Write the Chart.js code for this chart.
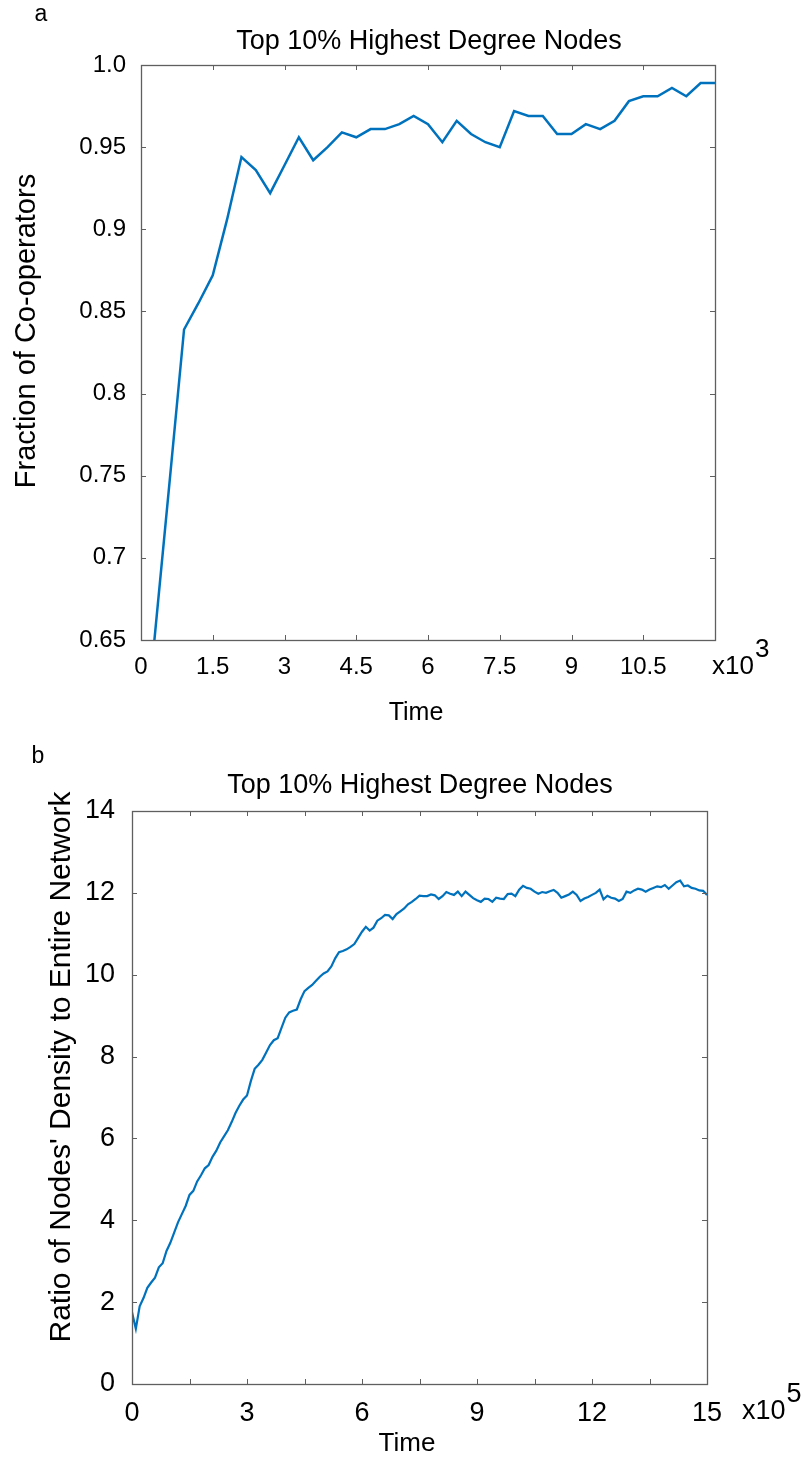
<!DOCTYPE html>
<html>
<head>
<meta charset="utf-8">
<script src="https://cdn.jsdelivr.net/npm/chart.js@4.4.1/dist/chart.umd.min.js"></script>
<style>
  body { margin: 0; background: #fff; }
  #boxA { position: absolute; left: 0; top: 0; }
  #boxB { position: absolute; left: 0; top: 730px; }
</style>
</head>
<body>
<div id="boxA"><canvas id="chartA" width="809" height="730"></canvas></div>
<div id="boxB"><canvas id="chartB" width="809" height="732"></canvas></div>
<script>
// ---- panel a : fraction of co-operators (time in x10^3)
const coopTime = [0, 0.3, 0.6, 0.9, 1.2, 1.5, 1.8, 2.1, 2.4, 2.7, 3.0, 3.3, 3.6, 3.9, 4.2, 4.5, 4.8, 5.1, 5.4, 5.7,
  6.0, 6.3, 6.6, 6.9, 7.2, 7.5, 7.8, 8.1, 8.4, 8.7, 9.0, 9.3, 9.6, 9.9, 10.2, 10.5, 10.8, 11.1, 11.4, 11.7, 12.0];
const coopFraction = [0.565, 0.656, 0.747, 0.839, 0.855, 0.872, 0.906, 0.944, 0.936, 0.922, 0.939, 0.956, 0.942, 0.950,
  0.959, 0.956, 0.961, 0.961, 0.964, 0.969, 0.964, 0.953, 0.966, 0.958, 0.953, 0.950, 0.972, 0.969, 0.969, 0.958,
  0.958, 0.964, 0.961, 0.966, 0.978, 0.981, 0.981, 0.986, 0.981, 0.989, 0.989];
const coopXTicks = [0, 1.5, 3, 4.5, 6, 7.5, 9, 10.5];
const coopXLabels = ['0', '1.5', '3', '4.5', '6', '7.5', '9', '10.5'];
const coopYTicks = [0.65, 0.7, 0.75, 0.8, 0.85, 0.9, 0.95, 1.0];
const coopYLabels = ['0.65', '0.7', '0.75', '0.8', '0.85', '0.9', '0.95', '1.0'];

// ---- panel b : density ratio (time in x10^5)
const densityTime = [0, 0.1, 0.2, 0.3, 0.4, 0.5, 0.6, 0.7, 0.8, 0.9, 1.0, 1.1, 1.2, 1.3, 1.4, 1.5, 1.6, 1.7, 1.8, 1.9,
  2.0, 2.1, 2.2, 2.3, 2.4, 2.5, 2.6, 2.7, 2.8, 2.9, 3.0, 3.1, 3.2, 3.3, 3.4, 3.5, 3.6, 3.7, 3.8, 3.9,
  4.0, 4.1, 4.2, 4.3, 4.4, 4.5, 4.6, 4.7, 4.8, 4.9, 5.0, 5.1, 5.2, 5.3, 5.4, 5.5, 5.6, 5.7, 5.8, 5.9,
  6.0, 6.1, 6.2, 6.3, 6.4, 6.5, 6.6, 6.7, 6.8, 6.9, 7.0, 7.1, 7.2, 7.3, 7.4, 7.5, 7.6, 7.7, 7.8, 7.9,
  8.0, 8.1, 8.2, 8.3, 8.4, 8.5, 8.6, 8.7, 8.8, 8.9, 9.0, 9.1, 9.2, 9.3, 9.4, 9.5, 9.6, 9.7, 9.8, 9.9,
  10.0, 10.1, 10.2, 10.3, 10.4, 10.5, 10.6, 10.7, 10.8, 10.9, 11.0, 11.1, 11.2, 11.3, 11.4, 11.5, 11.6, 11.7, 11.8, 11.9,
  12.0, 12.1, 12.2, 12.3, 12.4, 12.5, 12.6, 12.7, 12.8, 12.9, 13.0, 13.1, 13.2, 13.3, 13.4, 13.5, 13.6, 13.7, 13.8, 13.9,
  14.0, 14.1, 14.2, 14.3, 14.4, 14.5, 14.6, 14.7, 14.8, 14.9, 15.0];
const densityRatio = [1.75, 1.35, 1.90, 2.10, 2.35, 2.48, 2.60, 2.85, 2.95, 3.25, 3.45, 3.70, 3.95, 4.15, 4.35, 4.62, 4.72, 4.95, 5.10, 5.27,
  5.35, 5.55, 5.70, 5.90, 6.05, 6.20, 6.40, 6.62, 6.80, 6.95, 7.05, 7.40, 7.70, 7.80, 7.92, 8.10, 8.28, 8.40, 8.45, 8.70,
  8.95, 9.08, 9.12, 9.15, 9.40, 9.60, 9.68, 9.75, 9.85, 9.95, 10.03, 10.08, 10.20, 10.40, 10.55, 10.58, 10.62, 10.68, 10.75, 10.90,
  11.05, 11.17, 11.08, 11.15, 11.32, 11.38, 11.46, 11.45, 11.36, 11.48, 11.55, 11.62, 11.72, 11.78, 11.85, 11.93, 11.92, 11.92, 11.96, 11.94,
  11.85, 11.92, 12.02, 11.98, 11.95, 12.03, 11.92, 12.03, 11.95, 11.87, 11.82, 11.78, 11.86, 11.85, 11.78, 11.88, 11.86, 11.85, 11.97, 11.98,
  11.92, 12.08, 12.17, 12.12, 12.10, 12.03, 11.98, 12.02, 12.00, 12.04, 12.07, 12.00, 11.88, 11.92, 11.96, 12.03, 11.95, 11.80, 11.86, 11.90,
  11.95, 12.00, 12.08, 11.84, 11.93, 11.88, 11.86, 11.80, 11.85, 12.03, 12.00, 12.06, 12.10, 12.08, 12.03, 12.08, 12.12, 12.16, 12.14, 12.19,
  12.10, 12.18, 12.26, 12.30, 12.16, 12.18, 12.12, 12.10, 12.06, 12.05, 11.95];
const densityXTicks = [0, 1.5, 3, 4.5, 6, 7.5, 9, 10.5, 12, 13.5, 15];
const densityXLabels = ['0', '', '3', '', '6', '', '9', '', '12', '', '15'];
const densityYTicks = [0, 2, 4, 6, 8, 10, 12, 14];
const densityYLabels = ['0', '2', '4', '6', '8', '10', '12', '14'];

const FONT = "'Liberation Sans', Arial, sans-serif";
const LINE_BLUE = '#0072BD';
const AXIS_GREY = '#5f5f5f';

// box around the plot + ticks pointing inwards on all four sides
const frameTicks = {
  id: 'frameTicks',
  afterDatasetsDraw(chart, args, opts) {
    const { ctx, chartArea: a, scales } = chart;
    ctx.save();
    ctx.strokeStyle = AXIS_GREY;
    ctx.lineWidth = 1;
    ctx.beginPath();
    scales.x.ticks.forEach(t => {
      const px = Math.round(scales.x.getPixelForValue(t.value)) + 0.5;
      ctx.moveTo(px, a.bottom); ctx.lineTo(px, a.bottom - opts.len);
      ctx.moveTo(px, a.top); ctx.lineTo(px, a.top + opts.len);
    });
    scales.y.ticks.forEach(t => {
      const py = Math.round(scales.y.getPixelForValue(t.value)) + 0.5;
      ctx.moveTo(a.left, py); ctx.lineTo(a.left + opts.len, py);
      ctx.moveTo(a.right, py); ctx.lineTo(a.right - opts.len, py);
    });
    ctx.stroke();
    ctx.lineWidth = 1.3;
    ctx.strokeRect(Math.round(a.left) + 0.5, Math.round(a.top) + 0.5, Math.round(a.width), Math.round(a.height));
    ctx.restore();
  }
};

// panel letter, title, axis titles and the x10^n note
const panelText = {
  id: 'panelText',
  afterDraw(chart, args, o) {
    const { ctx } = chart;
    ctx.save();
    ctx.fillStyle = '#000';
    ctx.textBaseline = 'middle';
    ctx.textAlign = 'center';
    ctx.font = o.letterFont;
    ctx.fillText(o.letter, o.letterPos[0], o.letterPos[1]);
    ctx.font = o.titleFont;
    ctx.fillText(o.title, o.titlePos[0], o.titlePos[1]);
    ctx.font = o.xAxisFont;
    ctx.fillText(o.xTitle, o.xTitlePos[0], o.xTitlePos[1]);
    ctx.textAlign = 'left';
    ctx.font = o.expFont;
    ctx.fillText('x10', o.expPos[0], o.expPos[1]);
    const w = ctx.measureText('x10').width;
    ctx.fillText(o.exponent, o.expPos[0] + w + 1, o.expPos[1] - o.expRaise);
    ctx.translate(o.yTitlePos[0], o.yTitlePos[1]);
    ctx.rotate(-Math.PI / 2);
    ctx.textAlign = 'center';
    ctx.font = o.yAxisFont;
    ctx.fillText(o.yTitle, 0, 0);
    ctx.restore();
  }
};

function fixedTicks(values) {
  return scale => { scale.ticks = values.map(v => ({ value: v })); };
}

function makeChart(id, cfg) {
  return new Chart(document.getElementById(id), {
    type: 'line',
    data: {
      datasets: [{
        data: cfg.xs.map((x, i) => ({ x: x, y: cfg.ys[i] })),
        borderColor: LINE_BLUE,
        borderWidth: cfg.lineWidth,
        pointRadius: 0,
        tension: 0,
        clip: 0
      }]
    },
    options: {
      responsive: false,
      animation: false,
      layout: { padding: cfg.padding },
      scales: {
        x: {
          type: 'linear',
          min: cfg.xMin, max: cfg.xMax,
          afterBuildTicks: fixedTicks(cfg.xTicks),
          afterFit: s => { s.height = cfg.xAxisHeight; },
          grid: { display: false, drawTicks: false, tickLength: 0 },
          border: { display: false },
          ticks: {
            autoSkip: false, maxRotation: 0, padding: cfg.xPad,
            color: '#000', font: { family: FONT, size: cfg.tickSize },
            callback: (v, i) => cfg.xLabels[i]
          }
        },
        y: {
          type: 'linear',
          min: cfg.yMin, max: cfg.yMax,
          afterBuildTicks: fixedTicks(cfg.yTicks),
          afterFit: s => { s.width = cfg.yAxisWidth; },
          grid: { display: false, drawTicks: false, tickLength: 0 },
          border: { display: false },
          ticks: {
            autoSkip: false, padding: cfg.yPad,
            color: '#000', font: { family: FONT, size: cfg.tickSize },
            callback: (v, i) => cfg.yLabels[i]
          }
        }
      },
      plugins: {
        legend: { display: false },
        tooltip: { enabled: false },
        frameTicks: { len: 5 },
        panelText: cfg.text
      }
    },
    plugins: [frameTicks, panelText]
  });
}

makeChart('chartA', {
  xs: coopTime, ys: coopFraction, lineWidth: 2.5,
  xMin: 0, xMax: 12, yMin: 0.65, yMax: 1.0,
  xTicks: coopXTicks, xLabels: coopXLabels, yTicks: coopYTicks, yLabels: coopYLabels,
  padding: { left: 0, right: 94, top: 65, bottom: 40 },
  xAxisHeight: 50, yAxisWidth: 141, xPad: 13, yPad: 15, tickSize: 24,
  text: {
    letter: 'a', letterPos: [41, 15], letterFont: '23px ' + FONT,
    title: 'Top 10% Highest Degree Nodes', titlePos: [429, 42], titleFont: '27px ' + FONT,
    xTitle: 'Time', xTitlePos: [416, 713], xAxisFont: '25px ' + FONT,
    yTitle: 'Fraction of Co-operators', yTitlePos: [27, 331], yAxisFont: '29px ' + FONT,
    expFont: '26px ' + FONT, exponent: '3', expPos: [712, 667], expRaise: 17
  }
});

makeChart('chartB', {
  xs: densityTime, ys: densityRatio, lineWidth: 2.2,
  xMin: 0, xMax: 15, yMin: 0, yMax: 14,
  xTicks: densityXTicks, xLabels: densityXLabels, yTicks: densityYTicks, yLabels: densityYLabels,
  padding: { left: 0, right: 102, top: 81, bottom: 28 },
  xAxisHeight: 50, yAxisWidth: 132, xPad: 13, yPad: 17, tickSize: 27,
  text: {
    letter: 'b', letterPos: [38, 27], letterFont: '23px ' + FONT,
    title: 'Top 10% Highest Degree Nodes', titlePos: [420, 56], titleFont: '27px ' + FONT,
    xTitle: 'Time', xTitlePos: [407, 714], xAxisFont: '26px ' + FONT,
    yTitle: "Ratio of Nodes' Density to Entire Network", yTitlePos: [62, 337], yAxisFont: '30px ' + FONT,
    expFont: '27px ' + FONT, exponent: '5', expPos: [742, 682], expRaise: 17
  }
});
</script>
</body>
</html>
